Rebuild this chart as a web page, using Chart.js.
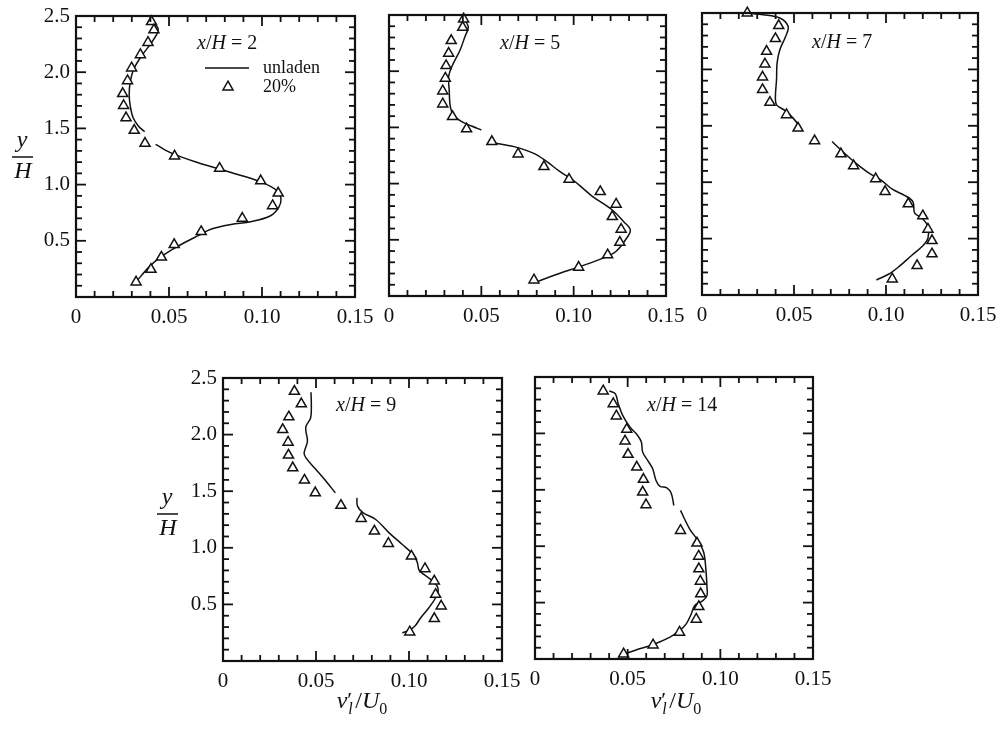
<!DOCTYPE html>
<html>
<head>
<meta charset="utf-8">
<script src="https://cdn.jsdelivr.net/npm/chart.js@4.4.0/dist/chart.umd.min.js"></script>
<style>
html, body { margin: 0; padding: 0; background: #fff; }
#wrap { position: relative; width: 1002px; height: 730px; overflow: hidden; }
#wrap canvas { position: absolute; left: 0; top: 0; }
</style>
</head>
<body>
<div id="wrap">
  <canvas id="p1" width="1002" height="730"></canvas>
  <canvas id="p2" width="1002" height="730"></canvas>
  <canvas id="p3" width="1002" height="730"></canvas>
  <canvas id="p4" width="1002" height="730"></canvas>
  <canvas id="p5" width="1002" height="730"></canvas>
</div>
<script>
// ---------- axis ticks ----------
const xTicks = [0, 0.05, 0.10, 0.15];
const xTickLabels = ['0', '0.05', '0.10', '0.15'];
const yTicks = [0.5, 1.0, 1.5, 2.0, 2.5];
const yTickLabels = ['0.5', '1.0', '1.5', '2.0', '2.5'];
const stations = [2, 5, 7, 9, 14];   // x/H
const seriesNames = ['unladen', '20%'];

// ---------- data: [v'/U0, y/H] ----------
// x/H = 2
const tri2 = [[0.0406,2.45],[0.0419,2.376],[0.0387,2.264],[0.0346,2.155],[0.0299,2.037],[0.0277,1.924],[0.0251,1.809],[0.0256,1.703],[0.0269,1.594],[0.0313,1.482],[0.0371,1.367],[0.0530,1.254],[0.0772,1.145],[0.0993,1.033],[0.1087,0.924],[0.1057,0.812],[0.0894,0.700],[0.0673,0.581],[0.0528,0.466],[0.0459,0.354],[0.0403,0.245],[0.0323,0.133]];
const unl2a = [[0.0401,2.470],[0.0442,2.382],[0.0410,2.273],[0.0357,2.155],[0.0313,2.037],[0.0292,1.919],[0.0286,1.800],[0.0292,1.697],[0.0307,1.594],[0.0336,1.520],[0.0369,1.470]];
const unl2b = [[0.0428,1.358],[0.0516,1.278],[0.0657,1.195],[0.0834,1.107],[0.0993,1.024],[0.1081,0.945],[0.1102,0.871],[0.1090,0.797],[0.1046,0.723],[0.0940,0.670],[0.0834,0.646],[0.0728,0.605],[0.0657,0.546],[0.0587,0.487],[0.0516,0.422],[0.0454,0.354],[0.0392,0.266],[0.0322,0.133]];
// x/H = 5
const tri5 = [[0.0404,2.464],[0.0399,2.390],[0.0337,2.272],[0.0323,2.159],[0.0309,2.049],[0.0305,1.937],[0.0291,1.824],[0.0291,1.708],[0.0344,1.595],[0.0420,1.486],[0.0557,1.373],[0.0699,1.263],[0.0839,1.151],[0.0975,1.038],[0.1144,0.928],[0.1230,0.816],[0.1209,0.706],[0.1257,0.593],[0.1250,0.477],[0.1184,0.365],[0.1027,0.255],[0.0785,0.142]];
const unl5a = [[0.0394,2.491],[0.0429,2.396],[0.0411,2.307],[0.0385,2.189],[0.0340,2.040],[0.0323,1.951],[0.0326,1.833],[0.0332,1.684],[0.0349,1.610],[0.0394,1.551],[0.0447,1.512],[0.0500,1.477]];
const unl5b = [[0.0562,1.364],[0.0677,1.329],[0.0784,1.269],[0.0855,1.195],[0.0926,1.106],[0.0996,1.032],[0.1050,0.958],[0.1103,0.884],[0.1209,0.765],[0.1271,0.661],[0.1307,0.587],[0.1280,0.498],[0.1227,0.394],[0.1156,0.335],[0.1032,0.261],[0.0926,0.202],[0.0801,0.128]];
// x/H = 7
const tri7 = [[0.0246,2.50],[0.0417,2.388],[0.0399,2.272],[0.0351,2.160],[0.0342,2.047],[0.0329,1.932],[0.0329,1.820],[0.0369,1.707],[0.0459,1.598],[0.0522,1.479],[0.0612,1.367],[0.0755,1.251],[0.0824,1.145],[0.0944,1.030],[0.0995,0.917],[0.1121,0.808],[0.1200,0.701],[0.1228,0.583],[0.1250,0.482],[0.1250,0.364],[0.1169,0.260],[0.1034,0.142]];
const unl7a = [[0.0252,2.497],[0.0333,2.485],[0.0423,2.456],[0.0468,2.382],[0.0455,2.293],[0.0423,2.175],[0.0408,2.056],[0.0405,1.908],[0.0399,1.760],[0.0405,1.686],[0.0450,1.636],[0.0495,1.568],[0.0531,1.494]];
const unl7b = [[0.0707,1.361],[0.0764,1.272],[0.0836,1.169],[0.0908,1.080],[0.0971,1.021],[0.1034,0.938],[0.1106,0.879],[0.1146,0.828],[0.1156,0.725],[0.1196,0.680],[0.1228,0.607],[0.1228,0.503],[0.1196,0.429],[0.1142,0.355],[0.1070,0.251],[0.1016,0.186],[0.0948,0.133]];
// x/H = 9
const tri9 = [[0.0384,2.382],[0.0421,2.271],[0.0354,2.156],[0.0321,2.044],[0.0350,1.932],[0.0352,1.818],[0.0375,1.706],[0.0438,1.597],[0.0496,1.485],[0.0634,1.374],[0.0743,1.259],[0.0814,1.147],[0.0889,1.038],[0.1013,0.926],[0.1086,0.815],[0.1136,0.706],[0.1143,0.588],[0.1173,0.485],[0.1136,0.374],[0.1004,0.256]];
const unl9a = [[0.0473,2.374],[0.0475,2.250],[0.0471,2.147],[0.0446,2.074],[0.0446,2.029],[0.0454,1.941],[0.0436,1.838],[0.0446,1.794],[0.0500,1.691],[0.0554,1.588],[0.0604,1.485]];
const unl9b = [[0.0720,1.441],[0.0723,1.368],[0.0754,1.309],[0.0821,1.250],[0.0893,1.132],[0.0964,1.029],[0.1027,0.932],[0.1045,0.868],[0.1054,0.803],[0.1080,0.765],[0.1134,0.697],[0.1157,0.632],[0.1143,0.559],[0.1107,0.471],[0.1063,0.382],[0.1032,0.309],[0.1000,0.271],[0.0964,0.250]];
// x/H = 14
const tri14 = [[0.0368,2.376],[0.0422,2.263],[0.0439,2.154],[0.0495,2.036],[0.0486,1.932],[0.0502,1.814],[0.0549,1.701],[0.0585,1.592],[0.0581,1.479],[0.0599,1.367],[0.0785,1.139],[0.0874,1.027],[0.0883,0.911],[0.0884,0.799],[0.0892,0.689],[0.0894,0.577],[0.0884,0.464],[0.0870,0.352],[0.0780,0.237],[0.0637,0.124],[0.0478,0.044]];
const unl14a = [[0.0401,2.376],[0.0433,2.352],[0.0449,2.263],[0.0473,2.160],[0.0513,2.056],[0.0554,1.982],[0.0574,1.923],[0.0581,1.834],[0.0608,1.760],[0.0635,1.686],[0.0653,1.583],[0.0675,1.530],[0.0711,1.518],[0.0735,1.470],[0.0749,1.361]];
const unl14b = [[0.0785,1.317],[0.0834,1.154],[0.0879,1.050],[0.0910,0.947],[0.0921,0.814],[0.0928,0.636],[0.0928,0.562],[0.0906,0.518],[0.0861,0.473],[0.0843,0.399],[0.0816,0.311],[0.0780,0.251],[0.0726,0.192],[0.0635,0.127],[0.0545,0.080],[0.0491,0.050]];

// ---------- layout ----------
const W = 1002, H = 730;
const YAXW = 45, XAXH = 40;
const INK = '#111';
const SERIF = '"Liberation Serif", "Times New Roman", serif';
const R = s => s + 'px ' + SERIF;
const I = s => 'italic ' + s + 'px ' + SERIF;

const panels = [
  { id: 'p1', st: stations[0], tri: tri2,  segs: [unl2a, unl2b],   box: [76, 16, 355, 297],  yLab: true,  title: [197, 49], legend: true, yTitle: [22, 157] },
  { id: 'p2', st: stations[1], tri: tri5,  segs: [unl5a, unl5b],   box: [389, 15, 666, 296], yLab: false, title: [500, 49] },
  { id: 'p3', st: stations[2], tri: tri7,  segs: [unl7a, unl7b],   box: [702, 13, 978, 295], yLab: false, title: [812, 48] },
  { id: 'p4', st: stations[3], tri: tri9,  segs: [unl9a, unl9b],   box: [223, 378, 502, 661], yLab: true, title: [336, 411], yTitle: [167, 514], xTitle: [362, 708] },
  { id: 'p5', st: stations[4], tri: tri14, segs: [unl14a, unl14b], box: [535, 377, 813, 659], yLab: false, title: [647, 411], xTitle: [676, 708] }
];

const toXY = arr => arr.map(p => ({ x: p[0], y: p[1] }));

function rich(ctx, parts, x, y, align) {
  let w = 0;
  parts.forEach(p => { ctx.font = p.f; p.w = ctx.measureText(p.t).width; w += (p.adv !== undefined ? p.adv : p.w); });
  let cx = align === 'center' ? x - w / 2 : x;
  ctx.textAlign = 'left';
  ctx.textBaseline = 'alphabetic';
  parts.forEach(p => {
    ctx.font = p.f;
    ctx.fillText(p.t, cx + (p.dx || 0), y + (p.dy || 0));
    cx += (p.adv !== undefined ? p.adv : p.w);
  });
}

function seg(ctx, x1, y1, x2, y2) {
  ctx.beginPath(); ctx.moveTo(x1, y1); ctx.lineTo(x2, y2); ctx.stroke();
}

// frame, inward ticks on all sides, annotations
const frame = {
  id: 'frame',
  afterDraw(chart, args, p) {
    const { ctx, chartArea: a } = chart;
    const xs = chart.scales.x, ys = chart.scales.y;
    ctx.save();
    ctx.strokeStyle = INK;
    ctx.fillStyle = INK;
    ctx.lineWidth = 1.8;
    for (let i = 0; i <= 15; i++) {
      const px = xs.getPixelForValue(i / 100);
      const len = i % 5 === 0 ? 10 : 6;
      seg(ctx, px, a.bottom, px, a.bottom - len);
      seg(ctx, px, a.top, px, a.top + len);
    }
    for (let i = 0; i <= 25; i++) {
      const py = ys.getPixelForValue(i / 10);
      const len = i % 5 === 0 ? 10 : 6;
      seg(ctx, a.left, py, a.left + len, py);
      seg(ctx, a.right, py, a.right - len, py);
    }
    ctx.lineWidth = 2.2;
    ctx.strokeRect(a.left, a.top, a.right - a.left, a.bottom - a.top);

    // station label
    rich(ctx, [
      { t: 'x', f: I(20) }, { t: '/', f: R(20) }, { t: 'H', f: I(20) }, { t: ' = ' + p.st, f: R(20) }
    ], p.title[0], p.title[1], 'left');

    if (p.legend) {
      ctx.lineWidth = 1.5;
      seg(ctx, 205, 68, 249, 68);
      ctx.font = R(18);
      ctx.textAlign = 'left';
      ctx.fillText(seriesNames[0], 263, 73);
      ctx.fillText(seriesNames[1], 263, 92);
      ctx.beginPath();
      const r = 5.8, cx = 228, cy = 87;
      ctx.moveTo(cx, cy - r);
      ctx.lineTo(cx + r * 0.866, cy + r / 2);
      ctx.lineTo(cx - r * 0.866, cy + r / 2);
      ctx.closePath();
      ctx.fillStyle = '#fff'; ctx.fill();
      ctx.lineWidth = 1.5; ctx.stroke();
      ctx.fillStyle = INK;
    }

    if (p.yTitle) {
      const [cx, cy] = p.yTitle;
      ctx.font = I(24);
      ctx.textAlign = 'center';
      ctx.fillText('y', cx, cy - 10);
      ctx.fillText('H', cx + 1, cy + 21);
      ctx.lineWidth = 1.5;
      seg(ctx, cx - 10, cy, cx + 11, cy);
    }

    if (p.xTitle) {
      rich(ctx, [
        { t: 'v', f: I(24) },
        { t: '\u2032', f: R(22), dy: -1, adv: 0 },
        { t: 'l', f: I(16), dy: 6, dx: 1, adv: 8 },
        { t: '/', f: R(24) },
        { t: 'U', f: I(24) },
        { t: '0', f: R(16), dy: 6 }
      ], p.xTitle[0], p.xTitle[1], 'center');
    }
    ctx.restore();
  }
};

panels.forEach(p => {
  const b = p.box;
  new Chart(document.getElementById(p.id), {
    type: 'scatter',
    data: {
      datasets: [
        {
          label: seriesNames[1],
          data: toXY(p.tri),
          showLine: false,
          pointStyle: 'triangle',
          pointRadius: 5.8,
          pointBorderWidth: 1.5,
          pointBackgroundColor: '#fff',
          pointBorderColor: INK,
          clip: false
        },
        ...p.segs.map(s => ({
          label: seriesNames[0],
          data: toXY(s),
          showLine: true,
          borderColor: INK,
          borderWidth: 1.5,
          pointRadius: 0,
          tension: 0.35,
          fill: false
        }))
      ]
    },
    options: {
      responsive: false,
      animation: false,
      events: [],
      layout: { padding: { left: b[0] - YAXW, top: b[1], right: W - b[2], bottom: H - b[3] - XAXH } },
      plugins: { legend: { display: false }, tooltip: { enabled: false }, frame: p },
      scales: {
        x: {
          type: 'linear', min: 0, max: 0.15,
          grid: { display: false, drawTicks: false },
          border: { display: false },
          afterBuildTicks: s => { s.ticks = xTicks.map(v => ({ value: v })); },
          afterFit: s => { s.height = XAXH; s.paddingLeft = 0; s.paddingRight = 0; },
          ticks: {
            color: INK, padding: 8, maxRotation: 0, autoSkip: false,
            font: { family: SERIF, size: 21 },
            callback: (v, i) => xTickLabels[i]
          }
        },
        y: {
          type: 'linear', min: 0, max: 2.5,
          grid: { display: false, drawTicks: false },
          border: { display: false },
          afterBuildTicks: s => { s.ticks = yTicks.map(v => ({ value: v })); },
          afterFit: s => { s.width = YAXW; s.paddingTop = 0; s.paddingBottom = 0; },
          ticks: {
            display: p.yLab, color: INK, padding: 6, autoSkip: false,
            font: { family: SERIF, size: 21 },
            callback: (v, i) => yTickLabels[i]
          }
        }
      }
    },
    plugins: [frame]
  });
});
</script>
</body>
</html>
